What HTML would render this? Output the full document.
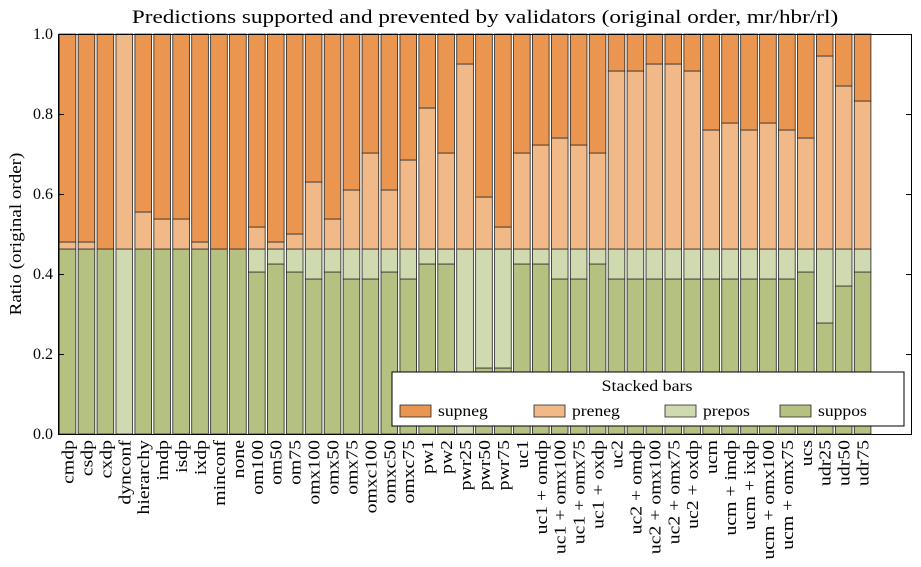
<!DOCTYPE html>
<html><head><meta charset="utf-8"><style>
body{margin:0;background:#fff}
svg{font-family:"Liberation Serif","DejaVu Serif",serif}
.a{fill:#b4c180}.b{fill:#d0dab0}.c{fill:#f1b988}.d{fill:#ea9650}
rect.a,rect.b,rect.c,rect.d{stroke:#222;stroke-width:0.8;vector-effect:non-scaling-stroke}
.l text{font-size:17px;text-anchor:end}
</style></head><body>
<svg width="921" height="562" viewBox="0 0 921 562">
<text transform="translate(485,23) scale(1.22,1)" font-size="19" text-anchor="middle">Predictions supported and prevented by validators (original order, mr/hbr/rl)</text>
<g transform="translate(59.2,434) scale(18.93,-400)">
<rect class="a" x="0" y="0" width="0.88" height="0.4625"/><rect class="c" x="0" y="0.4625" width="0.88" height="0.0175"/><rect class="d" x="0" y="0.48" width="0.88" height="0.52"/>
<rect class="a" x="1" y="0" width="0.88" height="0.4625"/><rect class="c" x="1" y="0.4625" width="0.88" height="0.0175"/><rect class="d" x="1" y="0.48" width="0.88" height="0.52"/>
<rect class="a" x="2" y="0" width="0.88" height="0.4625"/><rect class="d" x="2" y="0.4625" width="0.88" height="0.5375"/>
<rect class="b" x="3" y="0" width="0.88" height="0.4625"/><rect class="c" x="3" y="0.4625" width="0.88" height="0.5375"/>
<rect class="a" x="4" y="0" width="0.88" height="0.4625"/><rect class="c" x="4" y="0.4625" width="0.88" height="0.0925"/><rect class="d" x="4" y="0.555" width="0.88" height="0.445"/>
<rect class="a" x="5" y="0" width="0.88" height="0.4625"/><rect class="c" x="5" y="0.4625" width="0.88" height="0.075"/><rect class="d" x="5" y="0.5375" width="0.88" height="0.4625"/>
<rect class="a" x="6" y="0" width="0.88" height="0.4625"/><rect class="c" x="6" y="0.4625" width="0.88" height="0.075"/><rect class="d" x="6" y="0.5375" width="0.88" height="0.4625"/>
<rect class="a" x="7" y="0" width="0.88" height="0.4625"/><rect class="c" x="7" y="0.4625" width="0.88" height="0.0175"/><rect class="d" x="7" y="0.48" width="0.88" height="0.52"/>
<rect class="a" x="8" y="0" width="0.88" height="0.4625"/><rect class="d" x="8" y="0.4625" width="0.88" height="0.5375"/>
<rect class="a" x="9" y="0" width="0.88" height="0.4625"/><rect class="d" x="9" y="0.4625" width="0.88" height="0.5375"/>
<rect class="a" x="10" y="0" width="0.88" height="0.405"/><rect class="b" x="10" y="0.405" width="0.88" height="0.0575"/><rect class="c" x="10" y="0.4625" width="0.88" height="0.055"/><rect class="d" x="10" y="0.5175" width="0.88" height="0.4825"/>
<rect class="a" x="11" y="0" width="0.88" height="0.425"/><rect class="b" x="11" y="0.425" width="0.88" height="0.0375"/><rect class="c" x="11" y="0.4625" width="0.88" height="0.0175"/><rect class="d" x="11" y="0.48" width="0.88" height="0.52"/>
<rect class="a" x="12" y="0" width="0.88" height="0.405"/><rect class="b" x="12" y="0.405" width="0.88" height="0.0575"/><rect class="c" x="12" y="0.4625" width="0.88" height="0.0375"/><rect class="d" x="12" y="0.5" width="0.88" height="0.5"/>
<rect class="a" x="13" y="0" width="0.88" height="0.3875"/><rect class="b" x="13" y="0.3875" width="0.88" height="0.075"/><rect class="c" x="13" y="0.4625" width="0.88" height="0.1675"/><rect class="d" x="13" y="0.63" width="0.88" height="0.37"/>
<rect class="a" x="14" y="0" width="0.88" height="0.405"/><rect class="b" x="14" y="0.405" width="0.88" height="0.0575"/><rect class="c" x="14" y="0.4625" width="0.88" height="0.075"/><rect class="d" x="14" y="0.5375" width="0.88" height="0.4625"/>
<rect class="a" x="15" y="0" width="0.88" height="0.3875"/><rect class="b" x="15" y="0.3875" width="0.88" height="0.075"/><rect class="c" x="15" y="0.4625" width="0.88" height="0.1475"/><rect class="d" x="15" y="0.61" width="0.88" height="0.39"/>
<rect class="a" x="16" y="0" width="0.88" height="0.3875"/><rect class="b" x="16" y="0.3875" width="0.88" height="0.075"/><rect class="c" x="16" y="0.4625" width="0.88" height="0.24"/><rect class="d" x="16" y="0.7025" width="0.88" height="0.2975"/>
<rect class="a" x="17" y="0" width="0.88" height="0.405"/><rect class="b" x="17" y="0.405" width="0.88" height="0.0575"/><rect class="c" x="17" y="0.4625" width="0.88" height="0.1475"/><rect class="d" x="17" y="0.61" width="0.88" height="0.39"/>
<rect class="a" x="18" y="0" width="0.88" height="0.3875"/><rect class="b" x="18" y="0.3875" width="0.88" height="0.075"/><rect class="c" x="18" y="0.4625" width="0.88" height="0.2225"/><rect class="d" x="18" y="0.685" width="0.88" height="0.315"/>
<rect class="a" x="19" y="0" width="0.88" height="0.425"/><rect class="b" x="19" y="0.425" width="0.88" height="0.0375"/><rect class="c" x="19" y="0.4625" width="0.88" height="0.3525"/><rect class="d" x="19" y="0.815" width="0.88" height="0.185"/>
<rect class="a" x="20" y="0" width="0.88" height="0.425"/><rect class="b" x="20" y="0.425" width="0.88" height="0.0375"/><rect class="c" x="20" y="0.4625" width="0.88" height="0.24"/><rect class="d" x="20" y="0.7025" width="0.88" height="0.2975"/>
<rect class="b" x="21" y="0" width="0.88" height="0.4625"/><rect class="c" x="21" y="0.4625" width="0.88" height="0.4625"/><rect class="d" x="21" y="0.925" width="0.88" height="0.075"/>
<rect class="a" x="22" y="0" width="0.88" height="0.165"/><rect class="b" x="22" y="0.165" width="0.88" height="0.2975"/><rect class="c" x="22" y="0.4625" width="0.88" height="0.13"/><rect class="d" x="22" y="0.5925" width="0.88" height="0.4075"/>
<rect class="a" x="23" y="0" width="0.88" height="0.165"/><rect class="b" x="23" y="0.165" width="0.88" height="0.2975"/><rect class="c" x="23" y="0.4625" width="0.88" height="0.055"/><rect class="d" x="23" y="0.5175" width="0.88" height="0.4825"/>
<rect class="a" x="24" y="0" width="0.88" height="0.425"/><rect class="b" x="24" y="0.425" width="0.88" height="0.0375"/><rect class="c" x="24" y="0.4625" width="0.88" height="0.24"/><rect class="d" x="24" y="0.7025" width="0.88" height="0.2975"/>
<rect class="a" x="25" y="0" width="0.88" height="0.425"/><rect class="b" x="25" y="0.425" width="0.88" height="0.0375"/><rect class="c" x="25" y="0.4625" width="0.88" height="0.26"/><rect class="d" x="25" y="0.7225" width="0.88" height="0.2775"/>
<rect class="a" x="26" y="0" width="0.88" height="0.3875"/><rect class="b" x="26" y="0.3875" width="0.88" height="0.075"/><rect class="c" x="26" y="0.4625" width="0.88" height="0.2775"/><rect class="d" x="26" y="0.74" width="0.88" height="0.26"/>
<rect class="a" x="27" y="0" width="0.88" height="0.3875"/><rect class="b" x="27" y="0.3875" width="0.88" height="0.075"/><rect class="c" x="27" y="0.4625" width="0.88" height="0.26"/><rect class="d" x="27" y="0.7225" width="0.88" height="0.2775"/>
<rect class="a" x="28" y="0" width="0.88" height="0.425"/><rect class="b" x="28" y="0.425" width="0.88" height="0.0375"/><rect class="c" x="28" y="0.4625" width="0.88" height="0.24"/><rect class="d" x="28" y="0.7025" width="0.88" height="0.2975"/>
<rect class="a" x="29" y="0" width="0.88" height="0.3875"/><rect class="b" x="29" y="0.3875" width="0.88" height="0.075"/><rect class="c" x="29" y="0.4625" width="0.88" height="0.445"/><rect class="d" x="29" y="0.9075" width="0.88" height="0.0925"/>
<rect class="a" x="30" y="0" width="0.88" height="0.3875"/><rect class="b" x="30" y="0.3875" width="0.88" height="0.075"/><rect class="c" x="30" y="0.4625" width="0.88" height="0.445"/><rect class="d" x="30" y="0.9075" width="0.88" height="0.0925"/>
<rect class="a" x="31" y="0" width="0.88" height="0.3875"/><rect class="b" x="31" y="0.3875" width="0.88" height="0.075"/><rect class="c" x="31" y="0.4625" width="0.88" height="0.4625"/><rect class="d" x="31" y="0.925" width="0.88" height="0.075"/>
<rect class="a" x="32" y="0" width="0.88" height="0.3875"/><rect class="b" x="32" y="0.3875" width="0.88" height="0.075"/><rect class="c" x="32" y="0.4625" width="0.88" height="0.4625"/><rect class="d" x="32" y="0.925" width="0.88" height="0.075"/>
<rect class="a" x="33" y="0" width="0.88" height="0.3875"/><rect class="b" x="33" y="0.3875" width="0.88" height="0.075"/><rect class="c" x="33" y="0.4625" width="0.88" height="0.445"/><rect class="d" x="33" y="0.9075" width="0.88" height="0.0925"/>
<rect class="a" x="34" y="0" width="0.88" height="0.3875"/><rect class="b" x="34" y="0.3875" width="0.88" height="0.075"/><rect class="c" x="34" y="0.4625" width="0.88" height="0.2975"/><rect class="d" x="34" y="0.76" width="0.88" height="0.24"/>
<rect class="a" x="35" y="0" width="0.88" height="0.3875"/><rect class="b" x="35" y="0.3875" width="0.88" height="0.075"/><rect class="c" x="35" y="0.4625" width="0.88" height="0.315"/><rect class="d" x="35" y="0.7775" width="0.88" height="0.2225"/>
<rect class="a" x="36" y="0" width="0.88" height="0.3875"/><rect class="b" x="36" y="0.3875" width="0.88" height="0.075"/><rect class="c" x="36" y="0.4625" width="0.88" height="0.2975"/><rect class="d" x="36" y="0.76" width="0.88" height="0.24"/>
<rect class="a" x="37" y="0" width="0.88" height="0.3875"/><rect class="b" x="37" y="0.3875" width="0.88" height="0.075"/><rect class="c" x="37" y="0.4625" width="0.88" height="0.315"/><rect class="d" x="37" y="0.7775" width="0.88" height="0.2225"/>
<rect class="a" x="38" y="0" width="0.88" height="0.3875"/><rect class="b" x="38" y="0.3875" width="0.88" height="0.075"/><rect class="c" x="38" y="0.4625" width="0.88" height="0.2975"/><rect class="d" x="38" y="0.76" width="0.88" height="0.24"/>
<rect class="a" x="39" y="0" width="0.88" height="0.405"/><rect class="b" x="39" y="0.405" width="0.88" height="0.0575"/><rect class="c" x="39" y="0.4625" width="0.88" height="0.2775"/><rect class="d" x="39" y="0.74" width="0.88" height="0.26"/>
<rect class="a" x="40" y="0" width="0.88" height="0.2775"/><rect class="b" x="40" y="0.2775" width="0.88" height="0.185"/><rect class="c" x="40" y="0.4625" width="0.88" height="0.4825"/><rect class="d" x="40" y="0.945" width="0.88" height="0.055"/>
<rect class="a" x="41" y="0" width="0.88" height="0.37"/><rect class="b" x="41" y="0.37" width="0.88" height="0.0925"/><rect class="c" x="41" y="0.4625" width="0.88" height="0.4075"/><rect class="d" x="41" y="0.87" width="0.88" height="0.13"/>
<rect class="a" x="42" y="0" width="0.88" height="0.405"/><rect class="b" x="42" y="0.405" width="0.88" height="0.0575"/><rect class="c" x="42" y="0.4625" width="0.88" height="0.37"/><rect class="d" x="42" y="0.8325" width="0.88" height="0.1675"/>
</g>
<!-- legend -->
<rect x="392" y="372" width="512" height="54" fill="#fff" stroke="#000" stroke-width="1"/>
<text transform="translate(647,391) scale(1.12,1)" font-size="16" text-anchor="middle">Stacked bars</text>
<rect class="d" x="400" y="405" width="31" height="12"/><text transform="translate(438,416) scale(1.1,1)" font-size="16">supneg</text>
<rect class="c" x="534" y="405" width="31" height="12"/><text transform="translate(572,416) scale(1.1,1)" font-size="16">preneg</text>
<rect class="b" x="665" y="405" width="31" height="12"/><text transform="translate(703,416) scale(1.1,1)" font-size="16">prepos</text>
<rect class="a" x="780" y="405" width="31" height="12"/><text transform="translate(818,416) scale(1.1,1)" font-size="16">suppos</text>
<!-- axes -->
<rect x="58.5" y="34.5" width="853" height="400" fill="none" stroke="#000" stroke-width="1"/>
<g stroke="#000" stroke-width="1">
<path d="M58 354.5h6M58 274.5h6M58 194.5h6M58 114.5h6M912 354.5h-6M912 274.5h-6M912 194.5h-6M912 114.5h-6"/>
</g>
<g font-size="16" text-anchor="end">
<text x="53" y="439">0.0</text><text x="53" y="359">0.2</text><text x="53" y="279">0.4</text><text x="53" y="199">0.6</text><text x="53" y="119">0.8</text><text x="53" y="39">1.0</text>
</g>
<text transform="translate(21,234) rotate(-90) scale(1.12,1)" font-size="17" text-anchor="middle">Ratio (original order)</text>
<g class="l">
<text transform="translate(73.5,440) rotate(-90) scale(1.16,1)">cmdp</text>
<text transform="translate(92.4,440) rotate(-90) scale(1.16,1)">csdp</text>
<text transform="translate(111.4,440) rotate(-90) scale(1.16,1)">cxdp</text>
<text transform="translate(130.3,440) rotate(-90) scale(1.16,1)">dynconf</text>
<text transform="translate(149.2,440) rotate(-90) scale(1.16,1)">hierarchy</text>
<text transform="translate(168.2,440) rotate(-90) scale(1.16,1)">imdp</text>
<text transform="translate(187.1,440) rotate(-90) scale(1.16,1)">isdp</text>
<text transform="translate(206,440) rotate(-90) scale(1.16,1)">ixdp</text>
<text transform="translate(224.9,440) rotate(-90) scale(1.16,1)">minconf</text>
<text transform="translate(243.9,440) rotate(-90) scale(1.16,1)">none</text>
<text transform="translate(262.8,440) rotate(-90) scale(1.16,1)">om100</text>
<text transform="translate(281.7,440) rotate(-90) scale(1.16,1)">om50</text>
<text transform="translate(300.7,440) rotate(-90) scale(1.16,1)">om75</text>
<text transform="translate(319.6,440) rotate(-90) scale(1.16,1)">omx100</text>
<text transform="translate(338.5,440) rotate(-90) scale(1.16,1)">omx50</text>
<text transform="translate(357.5,440) rotate(-90) scale(1.16,1)">omx75</text>
<text transform="translate(376.4,440) rotate(-90) scale(1.16,1)">omxc100</text>
<text transform="translate(395.3,440) rotate(-90) scale(1.16,1)">omxc50</text>
<text transform="translate(414.2,440) rotate(-90) scale(1.16,1)">omxc75</text>
<text transform="translate(433.2,440) rotate(-90) scale(1.16,1)">pw1</text>
<text transform="translate(452.1,440) rotate(-90) scale(1.16,1)">pw2</text>
<text transform="translate(471,440) rotate(-90) scale(1.16,1)">pwr25</text>
<text transform="translate(490,440) rotate(-90) scale(1.16,1)">pwr50</text>
<text transform="translate(508.9,440) rotate(-90) scale(1.16,1)">pwr75</text>
<text transform="translate(527.8,440) rotate(-90) scale(1.16,1)">uc1</text>
<text transform="translate(546.8,440) rotate(-90) scale(1.16,1)">uc1 + omdp</text>
<text transform="translate(565.7,440) rotate(-90) scale(1.16,1)">uc1 + omx100</text>
<text transform="translate(584.6,440) rotate(-90) scale(1.16,1)">uc1 + omx75</text>
<text transform="translate(603.5,440) rotate(-90) scale(1.16,1)">uc1 + oxdp</text>
<text transform="translate(622.5,440) rotate(-90) scale(1.16,1)">uc2</text>
<text transform="translate(641.4,440) rotate(-90) scale(1.16,1)">uc2 + omdp</text>
<text transform="translate(660.3,440) rotate(-90) scale(1.16,1)">uc2 + omx100</text>
<text transform="translate(679.3,440) rotate(-90) scale(1.16,1)">uc2 + omx75</text>
<text transform="translate(698.2,440) rotate(-90) scale(1.16,1)">uc2 + oxdp</text>
<text transform="translate(717.1,440) rotate(-90) scale(1.16,1)">ucm</text>
<text transform="translate(736.1,440) rotate(-90) scale(1.16,1)">ucm + imdp</text>
<text transform="translate(755,440) rotate(-90) scale(1.16,1)">ucm + ixdp</text>
<text transform="translate(773.9,440) rotate(-90) scale(1.16,1)">ucm + omx100</text>
<text transform="translate(792.8,440) rotate(-90) scale(1.16,1)">ucm + omx75</text>
<text transform="translate(811.8,440) rotate(-90) scale(1.16,1)">ucs</text>
<text transform="translate(830.7,440) rotate(-90) scale(1.16,1)">udr25</text>
<text transform="translate(849.6,440) rotate(-90) scale(1.16,1)">udr50</text>
<text transform="translate(868.6,440) rotate(-90) scale(1.16,1)">udr75</text>
</g>
</svg>
</body></html>
